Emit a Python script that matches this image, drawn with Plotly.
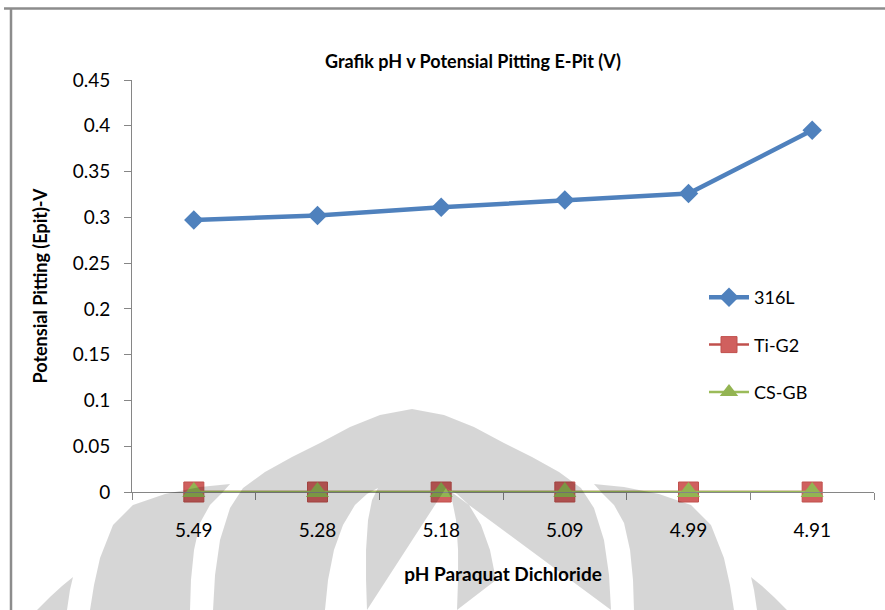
import plotly.graph_objects as go

# pH values of the paraquat dichloride solution (x categories)
ph_labels = ["5.49", "5.28", "5.18", "5.09", "4.99", "4.91"]

# Pitting potential E-pit (V) for each material
epit_316L = [0.297, 0.302, 0.311, 0.319, 0.326, 0.395]
epit_ti_g2 = [0, 0, 0, 0, 0, 0]
epit_cs_gb = [0, 0, 0, 0, 0, 0]

y_tick_values = [0, 0.05, 0.1, 0.15, 0.2, 0.25, 0.3, 0.35, 0.4, 0.45]
y_tick_labels = ["0", "0.05", "0.1", "0.15", "0.2", "0.25", "0.3", "0.35", "0.4", "0.45"]

W, H = 885, 610
ML, MR, MT, MB = 132, 11, 80, 118
PW, PH = W - ML - MR, H - MT - MB

FONT = "Lato"


def px(x):
    return (x - ML) / PW


def py(y):
    return (H - MB - y) / PH


def path_from(points):
    pts = [f"{px(x):.4f},{py(y):.4f}" for x, y in points]
    return "M" + " L".join(pts) + " Z"


def mirror(points, cx=412):
    return [(2 * cx - x, y) for x, y in points]


fig = go.Figure()

fig.add_trace(go.Scatter(
    x=ph_labels, y=epit_316L, name="316L", mode="lines+markers",
    line=dict(color="#4F81BD", width=4.5),
    marker=dict(symbol="diamond", size=15, color="#4F81BD"),
    cliponaxis=False, legendgroup="a",
))
fig.add_trace(go.Scatter(
    x=ph_labels, y=epit_ti_g2, name="Ti-G2", mode="lines+markers",
    line=dict(color="#C0504D", width=2.5),
    marker=dict(symbol="square", size=20, color="#D0605E",
                line=dict(color="#C0504D", width=1)),
    cliponaxis=False, legendgroup="b",
))
fig.add_trace(go.Scatter(
    x=ph_labels, y=epit_cs_gb, name="CS-GB", mode="lines+markers",
    line=dict(color="#9BBB59", width=2.5),
    marker=dict(symbol="triangle-up", size=20, color="#93B452",
                line=dict(width=0)),
    cliponaxis=False, legendgroup="c",
))

# Faint background emblem, drawn as translucent bands
wm_fill = "rgba(0,0,0,0.16)"
outer_lobe = [(37, 610), (50, 597), (62, 586), (73, 577), (70, 590), (67, 610)]
band2 = [(90, 610), (94, 585), (100, 558), (113, 525), (133, 505),
         (165, 494), (200, 487), (230, 484), (222, 493), (210, 505),
         (200, 523), (194, 550), (191, 580), (190, 610)]
band3_left = [(213, 610), (215, 575), (220, 540), (230, 508), (243, 488),
              (265, 472), (292, 457), (320, 443), (350, 427), (380, 415),
              (412, 409)]
stripe3_left_outer = [(325, 610), (328, 580), (334, 550), (343, 525),
                      (355, 505), (367, 494), (378, 488)]
stripe3_left_inner = [(378, 488), (372, 500), (368, 520), (366, 550),
                      (366, 580), (367, 610)]

# Central arch: outer outline over the top, then back along the bottom
# through the two inner slots
arch = band3_left + list(reversed(mirror(band3_left)))[1:]
right_slot_outer = list(reversed(mirror(stripe3_left_outer)))
right_slot_inner = list(reversed(mirror(stripe3_left_inner)))
arch += right_slot_outer[:-1] + right_slot_inner
arch += list(reversed(stripe3_left_inner))[:-1]
arch += list(reversed(stripe3_left_outer))

for poly in (outer_lobe, mirror(outer_lobe), band2, mirror(band2), arch):
    fig.add_shape(type="path", path=path_from(poly), xref="paper", yref="paper",
                  fillcolor=wm_fill, line=dict(width=0), layer="above")

# Chart frame edges
frame = dict(color="#8C8C8C", width=2.5)
fig.add_shape(type="line", xref="paper", yref="paper", x0=px(4), x1=px(890),
              y0=py(8.5), y1=py(8.5), line=frame)
fig.add_shape(type="line", xref="paper", yref="paper", x0=px(11), x1=px(11),
              y0=py(8), y1=py(615), line=frame)

axis_color = "#868686"
fig.update_layout(
    width=W, height=H,
    margin=dict(l=ML, r=MR, t=MT, b=MB),
    paper_bgcolor="white", plot_bgcolor="white",
    font=dict(family=FONT, size=19, color="#000000"),
    title=dict(text="<b>Grafik pH v Potensial Pitting E-Pit (V)</b>",
               font=dict(family=FONT, size=18), x=px(473), xref="paper",
               xanchor="center", y=1 - 62 / H, yref="container", yanchor="middle"),
    showlegend=True,
    legend=dict(x=px(704), y=py(279), xanchor="left", yanchor="top",
                font=dict(family=FONT, size=18), bgcolor="rgba(0,0,0,0)",
                tracegroupgap=21, itemwidth=40),
    xaxis=dict(
        type="category", categoryorder="array", categoryarray=ph_labels,
        range=[-0.5, 5.5], showline=True, linecolor=axis_color, linewidth=1,
        ticks="outside", tickson="boundaries", ticklen=7, tickcolor=axis_color,
        showgrid=False, zeroline=False, ticklabelstandoff=21,
        title=dict(text="<b>pH Paraquat Dichloride</b>", font=dict(size=19), standoff=27),
        automargin=False,
    ),
    yaxis=dict(
        range=[0, 0.45], tickvals=y_tick_values, ticktext=y_tick_labels,
        showline=True, linecolor=axis_color, linewidth=1,
        ticks="outside", ticklen=7, tickcolor=axis_color,
        showgrid=False, zeroline=False, ticklabelstandoff=10,
        title=dict(text="<b>Potensial Pitting (Epit)-V</b>", font=dict(size=18), standoff=20),
        automargin=False,
    ),
)

fig.write_html("out.html")
